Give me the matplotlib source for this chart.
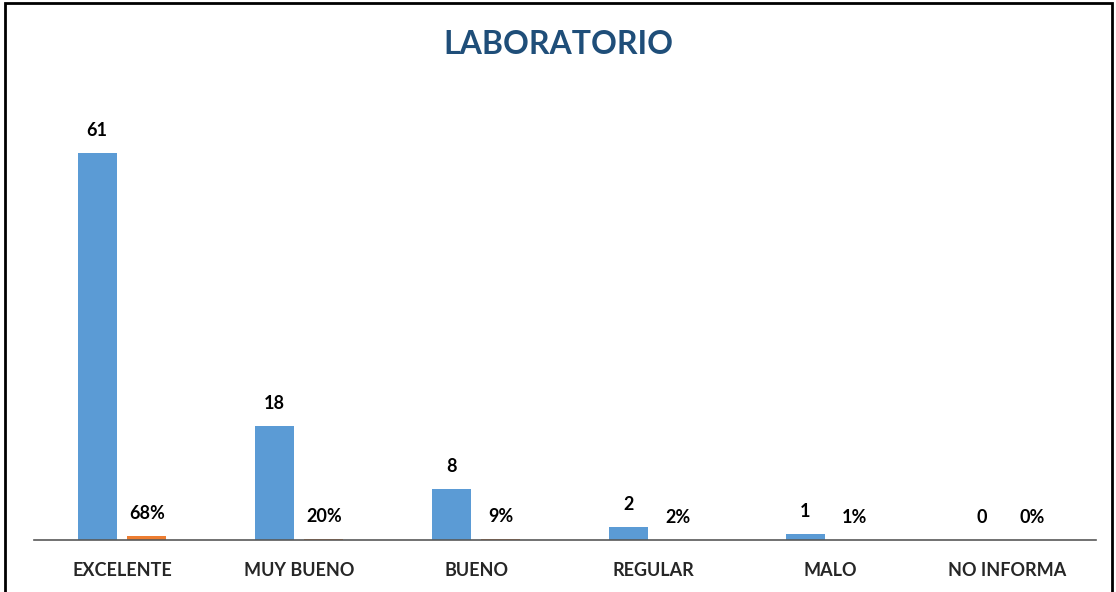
import matplotlib.pyplot as plt
import numpy as np
from matplotlib.patches import Rectangle

plt.rcParams['font.family'] = ['Lato', 'DejaVu Sans']

# datos
categorias = ['EXCELENTE', 'MUY BUENO', 'BUENO', 'REGULAR', 'MALO', 'NO INFORMA']
cantidad = [61, 18, 8, 2, 1, 0]
porcentaje = [0.68, 0.20, 0.09, 0.02, 0.01, 0.0]
etiquetas_pct = ['68%', '20%', '9%', '2%', '1%', '0%']

fig = plt.figure(figsize=(11.16, 5.92), dpi=100)
ax = fig.add_axes([33.5 / 1116, 52 / 592, 1062 / 1116, 444 / 592])

x = np.arange(len(categorias))
ancho = 0.22
ax.bar(x - 0.14, cantidad, ancho, color='#5B9BD5')
ax.bar(x + 0.14, porcentaje, ancho, color='#ED7D31')

# etiquetas de valores
for i in range(len(categorias)):
    ax.text(x[i] - 0.14, cantidad[i] + 2.2, str(cantidad[i]), ha='center', va='bottom',
            fontsize=13, fontweight='bold', color='#000000')
    ax.text(x[i] + 0.14, porcentaje[i] + 2.2, etiquetas_pct[i], ha='center', va='bottom',
            fontsize=13, fontweight='bold', color='#000000')

ax.set_xlim(-0.5, len(categorias) - 0.5)
ax.set_ylim(0, 70)
ax.set_xticks(x)
ax.set_xticklabels(categorias, fontsize=13, fontweight='bold', color='#262626')
ax.tick_params(axis='x', length=0, pad=16)
ax.set_yticks([])
for s in ['top', 'left', 'right']:
    ax.spines[s].set_visible(False)
ax.spines['bottom'].set_color('#595959')
ax.spines['bottom'].set_linewidth(1.2)

fig.text(0.5, 1 - 45 / 592, 'LABORATORIO', ha='center', va='center',
         fontsize=23, fontweight='bold', color='#1F4E79')

# borde del grafico
fig.patches.append(Rectangle((5 / 1116, -0.01), 1107 / 1116, 1 - 3 / 592 + 0.01,
                             transform=fig.transFigure, fill=False,
                             edgecolor='black', linewidth=2))

fig.savefig('out.png', dpi=100)
